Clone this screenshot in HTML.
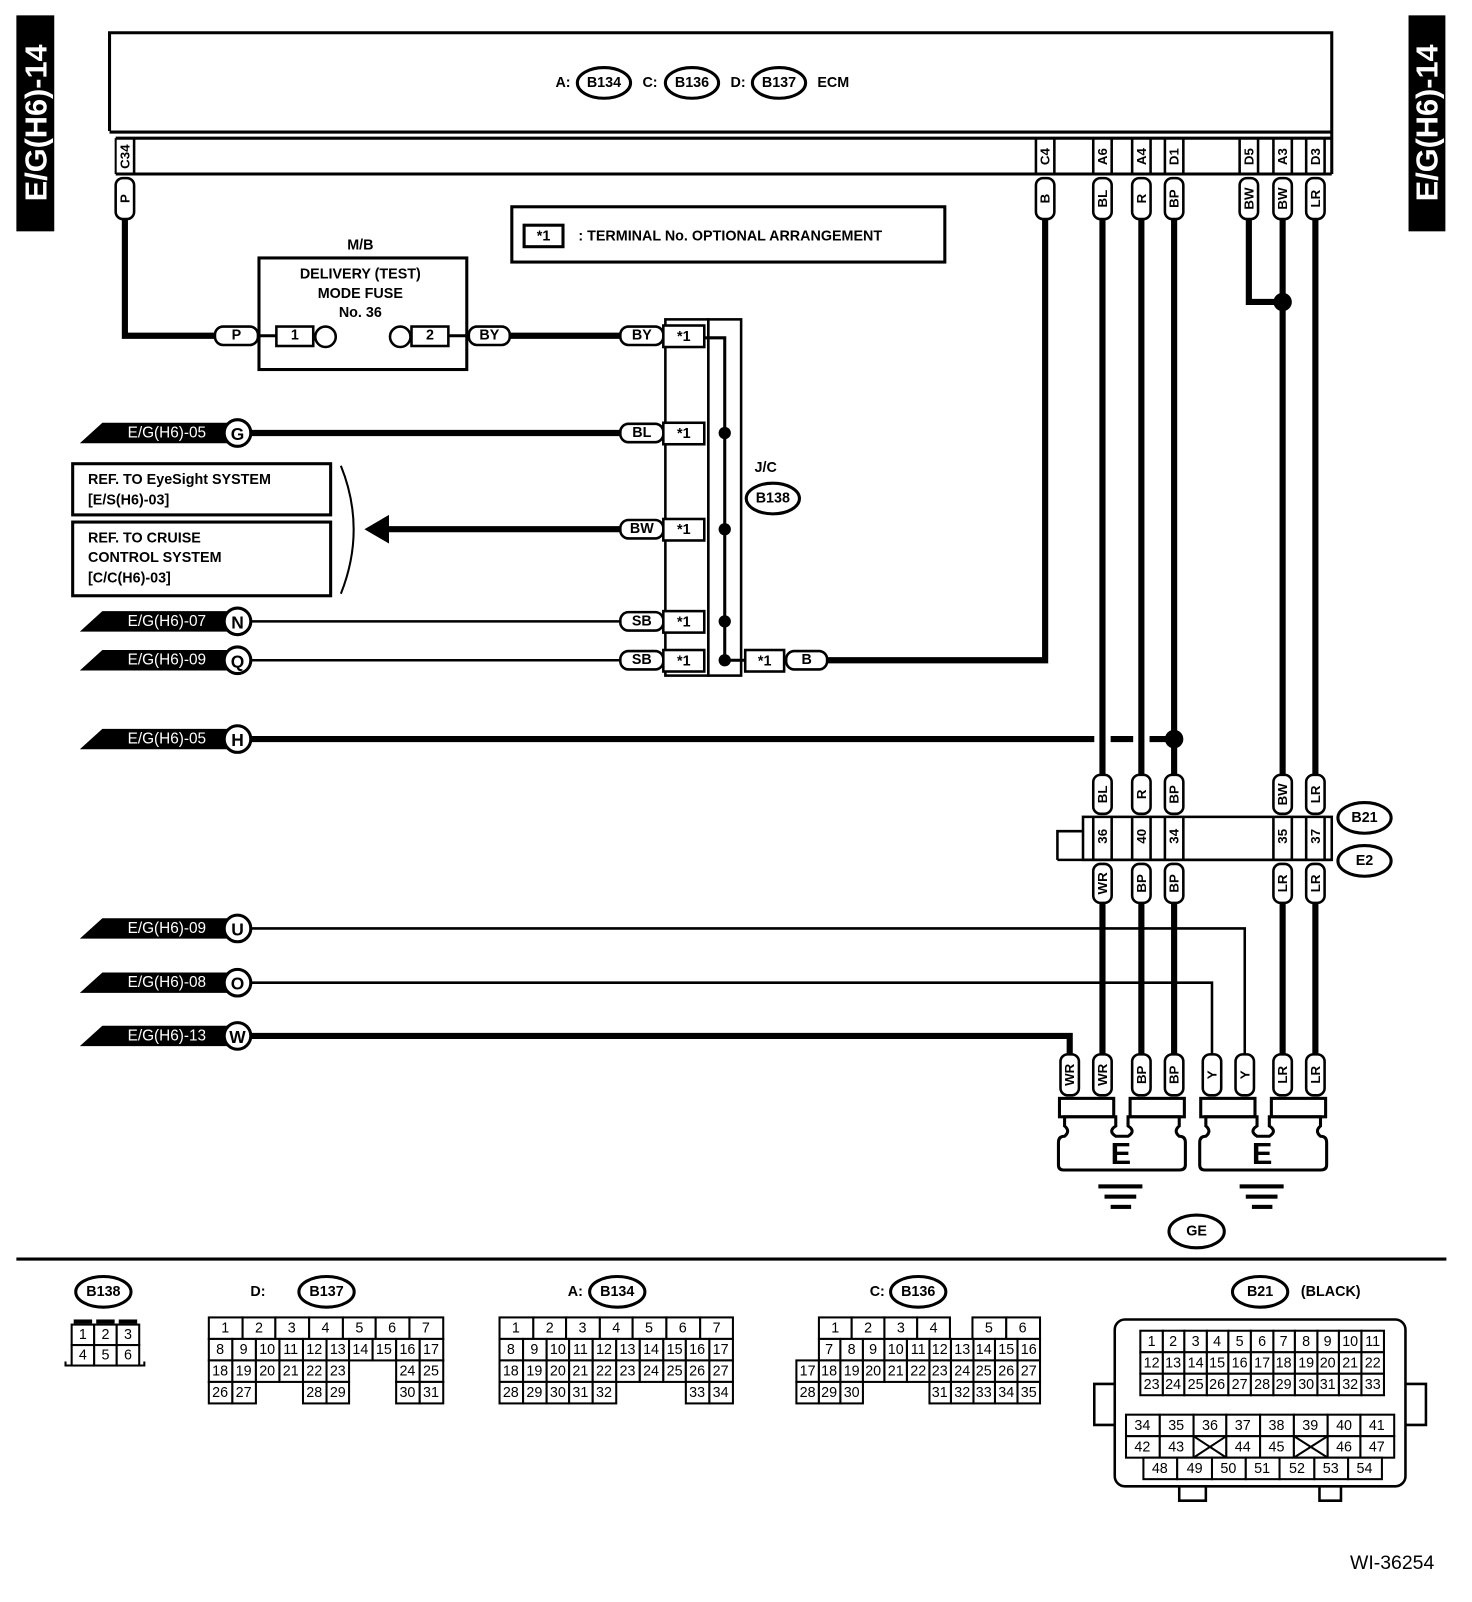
<!DOCTYPE html>
<html><head><meta charset="utf-8"><style>
html,body{margin:0;padding:0;background:#fff}
svg{display:block}
text{font-family:"Liberation Sans",sans-serif;fill:#000}
.b{font-weight:bold}
.c rect{fill:#fff;stroke:#000;stroke-width:2}
.c text{font-size:14px;text-anchor:middle;dominant-baseline:central}
.p{fill:#fff;stroke:#000;stroke-width:2.5}
.w{stroke:#000;stroke-width:6;fill:none}
.t{stroke:#000;stroke-width:2.5;fill:none}
.v{font-size:13px;font-weight:bold;text-anchor:middle;dominant-baseline:central}
.h{font-size:14px;font-weight:bold;text-anchor:middle;dominant-baseline:central}
.tab{fill:#fff;font-size:15px;dominant-baseline:central;text-anchor:middle}
.L{font-size:18px;font-weight:bold;text-anchor:middle;dominant-baseline:central}
</style></head><body>
<svg width="1472" height="1602" viewBox="0 0 1438 1565" preserveAspectRatio="none" xmlns="http://www.w3.org/2000/svg">
<!-- side tabs -->
<rect x="16" y="15" width="37" height="211" fill="#000"/>
<text transform="translate(35,120) rotate(-90)" class="b" style="fill:#fff;font-size:30px;text-anchor:middle;dominant-baseline:central">E/G(H6)-14</text>
<rect x="1376" y="15" width="36" height="211" fill="#000"/>
<text transform="translate(1394,120) rotate(-90)" class="b" style="fill:#fff;font-size:30px;text-anchor:middle;dominant-baseline:central">E/G(H6)-14</text>

<!-- ECM -->
<path d="M107,128 V32 H1301 V128" fill="none" stroke="#000" stroke-width="3"/>
<line x1="107" y1="129" x2="1301" y2="129" stroke="#000" stroke-width="3"/>
<line x1="113" y1="135" x2="1301" y2="135" stroke="#000" stroke-width="3"/>
<line x1="113" y1="170" x2="1301" y2="170" stroke="#000" stroke-width="3"/>
<line x1="113" y1="135" x2="113" y2="170" stroke="#000" stroke-width="2"/>
<line x1="1301" y1="128" x2="1301" y2="170" stroke="#000" stroke-width="3"/>
<text x="550" y="81" class="h">A:</text>
<ellipse cx="590" cy="81" rx="26" ry="15" fill="#fff" stroke="#000" stroke-width="3"/><text x="590" y="81" class="h">B134</text>
<text x="635" y="81" class="h">C:</text>
<ellipse cx="676" cy="81" rx="26" ry="15" fill="#fff" stroke="#000" stroke-width="3"/><text x="676" y="81" class="h">B136</text>
<text x="721" y="81" class="h">D:</text>
<ellipse cx="761" cy="81" rx="26" ry="15" fill="#fff" stroke="#000" stroke-width="3"/><text x="761" y="81" class="h">B137</text>
<text x="814" y="81" class="h">ECM</text>
<!-- terminal cells -->
<g stroke="#000" stroke-width="2.5">
<line x1="131" y1="135" x2="131" y2="170"/>
<line x1="1012" y1="135" x2="1012" y2="170"/><line x1="1030" y1="135" x2="1030" y2="170"/>
<line x1="1068" y1="135" x2="1068" y2="170"/><line x1="1086" y1="135" x2="1086" y2="170"/>
<line x1="1106" y1="135" x2="1106" y2="170"/><line x1="1124" y1="135" x2="1124" y2="170"/>
<line x1="1138" y1="135" x2="1138" y2="170"/><line x1="1156" y1="135" x2="1156" y2="170"/>
<line x1="1211" y1="135" x2="1211" y2="170"/><line x1="1229" y1="135" x2="1229" y2="170"/>
<line x1="1244" y1="135" x2="1244" y2="170"/><line x1="1262" y1="135" x2="1262" y2="170"/>
<line x1="1276" y1="135" x2="1276" y2="170"/><line x1="1294" y1="135" x2="1294" y2="170"/>
</g>
<text transform="translate(122,153) rotate(-90)" class="v">C34</text>
<text transform="translate(1021,153) rotate(-90)" class="v">C4</text>
<text transform="translate(1077,153) rotate(-90)" class="v">A6</text>
<text transform="translate(1115,153) rotate(-90)" class="v">A4</text>
<text transform="translate(1147,153) rotate(-90)" class="v">D1</text>
<text transform="translate(1220,153) rotate(-90)" class="v">D5</text>
<text transform="translate(1253,153) rotate(-90)" class="v">A3</text>
<text transform="translate(1285,153) rotate(-90)" class="v">D3</text>

<!-- wires -->
<path class="w" d="M122,212 V328 H212"/>
<line class="w" x1="498" y1="328" x2="608" y2="328"/>
<path class="w" d="M806,645 H1021 V212"/>
<line class="w" x1="1077" y1="212" x2="1077" y2="762"/>
<line class="w" x1="1115" y1="212" x2="1115" y2="762"/>
<line class="w" x1="1147" y1="212" x2="1147" y2="762"/>
<path class="w" d="M1220,212 V295 H1253"/>
<line class="w" x1="1253" y1="212" x2="1253" y2="762"/>
<line class="w" x1="1285" y1="212" x2="1285" y2="762"/>
<circle cx="1253" cy="295" r="9"/>
<line class="w" x1="246" y1="423" x2="608" y2="423"/>
<line class="w" x1="378" y1="517" x2="608" y2="517"/>
<polygon points="356,517 380,503 380,531"/>
<line class="t" x1="246" y1="607" x2="608" y2="607"/>
<line class="t" x1="246" y1="645" x2="608" y2="645"/>
<path class="w" d="M246,722 H1069 M1085,722 H1107 M1123,722 H1147"/>
<circle cx="1147" cy="722" r="9"/>
<line class="w" x1="1077" y1="880" x2="1077" y2="1032"/>
<line class="w" x1="1115" y1="880" x2="1115" y2="1032"/>
<line class="w" x1="1147" y1="880" x2="1147" y2="1032"/>
<line class="w" x1="1253" y1="880" x2="1253" y2="1032"/>
<line class="w" x1="1285" y1="880" x2="1285" y2="1032"/>
<path class="t" d="M246,907 H1216 V1032"/>
<path class="t" d="M246,960 H1184 V1032"/>
<path class="w" d="M246,1012 H1045 V1032"/>

<!-- vertical pills top -->
<g class="p">
<rect x="113" y="174" width="18" height="40" rx="7"/>
<rect x="1012" y="174" width="18" height="40" rx="7"/>
<rect x="1068" y="174" width="18" height="40" rx="7"/>
<rect x="1106" y="174" width="18" height="40" rx="7"/>
<rect x="1138" y="174" width="18" height="40" rx="7"/>
<rect x="1211" y="174" width="18" height="40" rx="7"/>
<rect x="1244" y="174" width="18" height="40" rx="7"/>
<rect x="1276" y="174" width="18" height="40" rx="7"/>
</g>
<text transform="translate(122,194) rotate(-90)" class="v">P</text>
<text transform="translate(1021,194) rotate(-90)" class="v">B</text>
<text transform="translate(1077,194) rotate(-90)" class="v">BL</text>
<text transform="translate(1115,194) rotate(-90)" class="v">R</text>
<text transform="translate(1147,194) rotate(-90)" class="v">BP</text>
<text transform="translate(1220,194) rotate(-90)" class="v">BW</text>
<text transform="translate(1253,194) rotate(-90)" class="v">BW</text>
<text transform="translate(1285,194) rotate(-90)" class="v">LR</text>

<!-- note box -->
<rect x="500" y="202" width="423" height="54" fill="#fff" stroke="#000" stroke-width="3"/>
<rect x="512" y="220" width="38" height="21" fill="#fff" stroke="#000" stroke-width="3"/>
<text x="531" y="231" class="h">*1</text>
<text x="565" y="231" class="b" style="font-size:14px;dominant-baseline:central">: TERMINAL No. OPTIONAL ARRANGEMENT</text>

<!-- fuse box -->
<text x="352" y="240" class="h">M/B</text>
<rect x="253" y="252" width="203" height="109" fill="#fff" stroke="#000" stroke-width="3"/>
<text x="352" y="268" class="h">DELIVERY (TEST)</text>
<text x="352" y="287" class="h">MODE FUSE</text>
<text x="352" y="306" class="h">No. 36</text>
<line x1="250" y1="328" x2="272" y2="328" stroke="#000" stroke-width="3"/>
<line x1="438" y1="328" x2="460" y2="328" stroke="#000" stroke-width="3"/>
<rect class="p" x="210" y="319" width="42" height="18" rx="8"/><text x="231" y="328" class="h">P</text>
<rect class="p" x="270" y="319" width="36" height="19"/><text x="288" y="328" class="h">1</text>
<ellipse class="p" cx="318" cy="329" rx="10" ry="10"/>
<ellipse class="p" cx="391" cy="329" rx="10" ry="10"/>
<rect class="p" x="402" y="319" width="36" height="19"/><text x="420" y="328" class="h">2</text>
<rect class="p" x="458" y="319" width="40" height="18" rx="8"/><text x="478" y="328" class="h">BY</text>

<!-- J/C -->
<rect x="650" y="312" width="42" height="348" fill="#fff" stroke="#000" stroke-width="2.5"/>
<rect x="692" y="312" width="32" height="348" fill="#fff" stroke="#000" stroke-width="2.5"/>
<path class="t" d="M688,330 H708 V645 H728" style="stroke-width:3"/>
<circle cx="708" cy="423" r="6"/><circle cx="708" cy="517" r="6"/><circle cx="708" cy="607" r="6"/><circle cx="708" cy="645" r="6"/>
<g>
<rect class="p" x="606" y="319" width="42" height="18" rx="8"/><text x="627" y="328" class="h">BY</text>
<rect class="p" x="648" y="318" width="40" height="21"/><text x="668" y="329" class="h">*1</text>
<rect class="p" x="606" y="414" width="42" height="18" rx="8"/><text x="627" y="423" class="h">BL</text>
<rect class="p" x="648" y="413" width="40" height="21"/><text x="668" y="424" class="h">*1</text>
<rect class="p" x="606" y="508" width="42" height="18" rx="8"/><text x="627" y="517" class="h">BW</text>
<rect class="p" x="648" y="507" width="40" height="21"/><text x="668" y="518" class="h">*1</text>
<rect class="p" x="606" y="598" width="42" height="18" rx="8"/><text x="627" y="607" class="h">SB</text>
<rect class="p" x="648" y="597" width="40" height="21"/><text x="668" y="608" class="h">*1</text>
<rect class="p" x="606" y="636" width="42" height="18" rx="8"/><text x="627" y="645" class="h">SB</text>
<rect class="p" x="648" y="635" width="40" height="21"/><text x="668" y="646" class="h">*1</text>
<rect class="p" x="728" y="635" width="38" height="21"/><text x="747" y="646" class="h">*1</text>
<rect class="p" x="768" y="636" width="40" height="18" rx="8"/><text x="788" y="645" class="h">B</text>
</g>
<text x="748" y="457" class="h">J/C</text>
<ellipse cx="755" cy="487" rx="26" ry="15" fill="#fff" stroke="#000" stroke-width="3"/><text x="755" y="487" class="h">B138</text>

<!-- ref boxes -->
<rect x="71" y="453" width="252" height="50" fill="#fff" stroke="#000" stroke-width="3"/>
<text x="86" y="469" class="b" style="font-size:14px;dominant-baseline:central">REF. TO EyeSight SYSTEM</text>
<text x="86" y="489" class="b" style="font-size:14px;dominant-baseline:central">[E/S(H6)-03]</text>
<rect x="71" y="510" width="252" height="72" fill="#fff" stroke="#000" stroke-width="3"/>
<text x="86" y="526" class="b" style="font-size:14px;dominant-baseline:central">REF. TO CRUISE</text>
<text x="86" y="545" class="b" style="font-size:14px;dominant-baseline:central">CONTROL SYSTEM</text>
<text x="86" y="565" class="b" style="font-size:14px;dominant-baseline:central">[C/C(H6)-03]</text>
<path d="M333,455 Q358,517 333,580" fill="none" stroke="#000" stroke-width="2"/>

<!-- left ref tabs -->
<g>
<polygon points="78,433 100,413 232,413 232,433"/><text x="163" y="423" class="tab">E/G(H6)-05</text>
<circle cx="232" cy="423" r="13" fill="#fff" stroke="#000" stroke-width="3"/><text x="232" y="424" class="h" style="font-size:17px">G</text>
<polygon points="78,617 100,597 232,597 232,617"/><text x="163" y="607" class="tab">E/G(H6)-07</text>
<circle cx="232" cy="607" r="13" fill="#fff" stroke="#000" stroke-width="3"/><text x="232" y="608" class="h" style="font-size:17px">N</text>
<polygon points="78,655 100,635 232,635 232,655"/><text x="163" y="645" class="tab">E/G(H6)-09</text>
<circle cx="232" cy="645" r="13" fill="#fff" stroke="#000" stroke-width="3"/><text x="232" y="646" class="h" style="font-size:17px">Q</text>
<polygon points="78,732 100,712 232,712 232,732"/><text x="163" y="722" class="tab">E/G(H6)-05</text>
<circle cx="232" cy="722" r="13" fill="#fff" stroke="#000" stroke-width="3"/><text x="232" y="723" class="h" style="font-size:17px">H</text>
<polygon points="78,917 100,897 232,897 232,917"/><text x="163" y="907" class="tab">E/G(H6)-09</text>
<circle cx="232" cy="907" r="13" fill="#fff" stroke="#000" stroke-width="3"/><text x="232" y="908" class="h" style="font-size:17px">U</text>
<polygon points="78,970 100,950 232,950 232,970"/><text x="163" y="960" class="tab">E/G(H6)-08</text>
<circle cx="232" cy="960" r="13" fill="#fff" stroke="#000" stroke-width="3"/><text x="232" y="961" class="h" style="font-size:17px">O</text>
<polygon points="78,1022 100,1002 232,1002 232,1022"/><text x="163" y="1012" class="tab">E/G(H6)-13</text>
<circle cx="232" cy="1012" r="13" fill="#fff" stroke="#000" stroke-width="3"/><text x="232" y="1013" class="h" style="font-size:17px">W</text>
</g>

<!-- B21/E2 joint connector -->
<rect x="1058" y="798" width="243" height="42" fill="#fff" stroke="#000" stroke-width="2.5"/>
<path d="M1033,840 V812 H1058" fill="none" stroke="#000" stroke-width="2.5"/>
<line x1="1033" y1="840" x2="1301" y2="840" stroke="#000" stroke-width="2.5"/>
<g stroke="#000" stroke-width="2.5">
<line x1="1068" y1="798" x2="1068" y2="840"/><line x1="1086" y1="798" x2="1086" y2="840"/>
<line x1="1106" y1="798" x2="1106" y2="840"/><line x1="1124" y1="798" x2="1124" y2="840"/>
<line x1="1138" y1="798" x2="1138" y2="840"/><line x1="1156" y1="798" x2="1156" y2="840"/>
<line x1="1244" y1="798" x2="1244" y2="840"/><line x1="1262" y1="798" x2="1262" y2="840"/>
<line x1="1276" y1="798" x2="1276" y2="840"/><line x1="1294" y1="798" x2="1294" y2="840"/>
</g>
<text transform="translate(1077,817) rotate(-90)" class="v">36</text>
<text transform="translate(1115,817) rotate(-90)" class="v">40</text>
<text transform="translate(1147,817) rotate(-90)" class="v">34</text>
<text transform="translate(1253,817) rotate(-90)" class="v">35</text>
<text transform="translate(1285,817) rotate(-90)" class="v">37</text>
<ellipse cx="1333" cy="799" rx="26" ry="15" fill="#fff" stroke="#000" stroke-width="3"/><text x="1333" y="799" class="h">B21</text>
<ellipse cx="1333" cy="841" rx="26" ry="15" fill="#fff" stroke="#000" stroke-width="3"/><text x="1333" y="841" class="h">E2</text>
<g class="p">
<rect x="1068" y="757" width="18" height="38" rx="7"/><rect x="1106" y="757" width="18" height="38" rx="7"/>
<rect x="1138" y="757" width="18" height="38" rx="7"/><rect x="1244" y="757" width="18" height="38" rx="7"/>
<rect x="1276" y="757" width="18" height="38" rx="7"/>
<rect x="1068" y="844" width="18" height="38" rx="7"/><rect x="1106" y="844" width="18" height="38" rx="7"/>
<rect x="1138" y="844" width="18" height="38" rx="7"/><rect x="1244" y="844" width="18" height="38" rx="7"/>
<rect x="1276" y="844" width="18" height="38" rx="7"/>
</g>
<text transform="translate(1077,776) rotate(-90)" class="v">BL</text>
<text transform="translate(1115,776) rotate(-90)" class="v">R</text>
<text transform="translate(1147,776) rotate(-90)" class="v">BP</text>
<text transform="translate(1253,776) rotate(-90)" class="v">BW</text>
<text transform="translate(1285,776) rotate(-90)" class="v">LR</text>
<text transform="translate(1077,863) rotate(-90)" class="v">WR</text>
<text transform="translate(1115,863) rotate(-90)" class="v">BP</text>
<text transform="translate(1147,863) rotate(-90)" class="v">BP</text>
<text transform="translate(1253,863) rotate(-90)" class="v">LR</text>
<text transform="translate(1285,863) rotate(-90)" class="v">LR</text>

<!-- lower pills -->
<g class="p">
<rect x="1036" y="1030" width="18" height="40" rx="7"/><rect x="1068" y="1030" width="18" height="40" rx="7"/>
<rect x="1106" y="1030" width="18" height="40" rx="7"/><rect x="1138" y="1030" width="18" height="40" rx="7"/>
<rect x="1175" y="1030" width="18" height="40" rx="7"/><rect x="1207" y="1030" width="18" height="40" rx="7"/>
<rect x="1244" y="1030" width="18" height="40" rx="7"/><rect x="1276" y="1030" width="18" height="40" rx="7"/>
</g>
<text transform="translate(1045,1050) rotate(-90)" class="v">WR</text>
<text transform="translate(1077,1050) rotate(-90)" class="v">WR</text>
<text transform="translate(1115,1050) rotate(-90)" class="v">BP</text>
<text transform="translate(1147,1050) rotate(-90)" class="v">BP</text>
<text transform="translate(1184,1050) rotate(-90)" class="v">Y</text>
<text transform="translate(1216,1050) rotate(-90)" class="v">Y</text>
<text transform="translate(1253,1050) rotate(-90)" class="v">LR</text>
<text transform="translate(1285,1050) rotate(-90)" class="v">LR</text>

<!-- ground terminals -->
<g fill="#fff" stroke="#000" stroke-width="3">
<rect x="1035" y="1073" width="53" height="18"/><rect x="1104" y="1073" width="53" height="18"/>
<rect x="1173" y="1073" width="53" height="18"/><rect x="1242" y="1073" width="53" height="18"/>
<path d="M1040,1091 H1090 V1100 Q1082,1105 1090,1110 H1102 Q1110,1105 1102,1100 V1091 H1152 V1100 Q1146,1105 1152,1110 Q1158,1110 1158,1116 V1138 Q1158,1143 1152,1143 H1039 Q1034,1143 1034,1138 V1116 Q1034,1110 1040,1110 Q1046,1105 1040,1100 Z"/>
<path d="M1178,1091 H1228 V1100 Q1220,1105 1228,1110 H1240 Q1248,1105 1240,1100 V1091 H1290 V1100 Q1284,1105 1290,1110 Q1296,1110 1296,1116 V1138 Q1296,1143 1290,1143 H1177 Q1172,1143 1172,1138 V1116 Q1172,1110 1178,1110 Q1184,1105 1178,1100 Z"/>
</g>
<text x="1095" y="1127" class="b" style="font-size:30px;text-anchor:middle;dominant-baseline:central">E</text>
<text x="1233" y="1127" class="b" style="font-size:30px;text-anchor:middle;dominant-baseline:central">E</text>
<g fill="#000">
<rect x="1073" y="1157" width="43" height="4"/><rect x="1079" y="1167" width="31" height="4"/><rect x="1085" y="1177" width="20" height="4"/>
<rect x="1211" y="1157" width="43" height="4"/><rect x="1217" y="1167" width="31" height="4"/><rect x="1223" y="1177" width="20" height="4"/>
</g>
<ellipse cx="1169" cy="1203" rx="27" ry="16" fill="#fff" stroke="#000" stroke-width="3"/><text x="1169" y="1203" class="h">GE</text>

<line x1="16" y1="1230" x2="1413" y2="1230" stroke="#000" stroke-width="3"/>

<!-- B138 -->
<ellipse cx="101" cy="1262" rx="27" ry="15" fill="#fff" stroke="#000" stroke-width="3"/><text x="101" y="1262" class="h">B138</text>
<g class="c">
<rect x="70" y="1294" width="22" height="20"/><text x="81" y="1304">1</text>
<rect x="92" y="1294" width="22" height="20"/><text x="103" y="1304">2</text>
<rect x="114" y="1294" width="22" height="20"/><text x="125" y="1304">3</text>
<rect x="70" y="1314" width="22" height="20"/><text x="81" y="1324">4</text>
<rect x="92" y="1314" width="22" height="20"/><text x="103" y="1324">5</text>
<rect x="114" y="1314" width="22" height="20"/><text x="125" y="1324">6</text>
</g>
<path d="M70,1334 H64 V1330 M136,1334 H141 V1330" stroke="#000" stroke-width="2" fill="none"/>
<g fill="#000"><rect x="72" y="1289" width="18" height="4"/><rect x="94" y="1289" width="18" height="4"/><rect x="116" y="1289" width="18" height="4"/></g>

<!-- D:B137 -->
<text x="252" y="1262" class="h">D:</text>
<ellipse cx="319" cy="1262" rx="27" ry="15" fill="#fff" stroke="#000" stroke-width="3"/><text x="319" y="1262" class="h">B137</text>
<g class="c">
<rect x="204" y="1287" width="33" height="21"/><text x="220" y="1298">1</text>
<rect x="237" y="1287" width="32" height="21"/><text x="253" y="1298">2</text>
<rect x="269" y="1287" width="33" height="21"/><text x="285" y="1298">3</text>
<rect x="302" y="1287" width="33" height="21"/><text x="318" y="1298">4</text>
<rect x="335" y="1287" width="32" height="21"/><text x="351" y="1298">5</text>
<rect x="367" y="1287" width="33" height="21"/><text x="383" y="1298">6</text>
<rect x="400" y="1287" width="33" height="21"/><text x="416" y="1298">7</text>
<rect x="204" y="1308" width="23" height="21"/><text x="215" y="1319">8</text>
<rect x="227" y="1308" width="23" height="21"/><text x="238" y="1319">9</text>
<rect x="250" y="1308" width="23" height="21"/><text x="261" y="1319">10</text>
<rect x="273" y="1308" width="23" height="21"/><text x="284" y="1319">11</text>
<rect x="296" y="1308" width="23" height="21"/><text x="307" y="1319">12</text>
<rect x="319" y="1308" width="22" height="21"/><text x="330" y="1319">13</text>
<rect x="341" y="1308" width="23" height="21"/><text x="352" y="1319">14</text>
<rect x="364" y="1308" width="23" height="21"/><text x="375" y="1319">15</text>
<rect x="387" y="1308" width="23" height="21"/><text x="398" y="1319">16</text>
<rect x="410" y="1308" width="23" height="21"/><text x="421" y="1319">17</text>
<rect x="204" y="1329" width="23" height="21"/><text x="215" y="1340">18</text>
<rect x="227" y="1329" width="23" height="21"/><text x="238" y="1340">19</text>
<rect x="250" y="1329" width="23" height="21"/><text x="261" y="1340">20</text>
<rect x="273" y="1329" width="23" height="21"/><text x="284" y="1340">21</text>
<rect x="296" y="1329" width="23" height="21"/><text x="307" y="1340">22</text>
<rect x="319" y="1329" width="22" height="21"/><text x="330" y="1340">23</text>
<rect x="387" y="1329" width="23" height="21"/><text x="398" y="1340">24</text>
<rect x="410" y="1329" width="23" height="21"/><text x="421" y="1340">25</text>
<rect x="204" y="1350" width="23" height="21"/><text x="215" y="1361">26</text>
<rect x="227" y="1350" width="23" height="21"/><text x="238" y="1361">27</text>
<rect x="296" y="1350" width="23" height="21"/><text x="307" y="1361">28</text>
<rect x="319" y="1350" width="22" height="21"/><text x="330" y="1361">29</text>
<rect x="387" y="1350" width="23" height="21"/><text x="398" y="1361">30</text>
<rect x="410" y="1350" width="23" height="21"/><text x="421" y="1361">31</text>
</g>

<!-- A:B134 -->
<text x="562" y="1262" class="h">A:</text>
<ellipse cx="603" cy="1262" rx="27" ry="15" fill="#fff" stroke="#000" stroke-width="3"/><text x="603" y="1262" class="h">B134</text>
<g class="c">
<rect x="488" y="1287" width="33" height="21"/><text x="504" y="1298">1</text>
<rect x="521" y="1287" width="32" height="21"/><text x="537" y="1298">2</text>
<rect x="553" y="1287" width="33" height="21"/><text x="569" y="1298">3</text>
<rect x="586" y="1287" width="32" height="21"/><text x="602" y="1298">4</text>
<rect x="618" y="1287" width="33" height="21"/><text x="634" y="1298">5</text>
<rect x="651" y="1287" width="33" height="21"/><text x="667" y="1298">6</text>
<rect x="684" y="1287" width="32" height="21"/><text x="700" y="1298">7</text>
<rect x="488" y="1308" width="23" height="21"/><text x="499" y="1319">8</text>
<rect x="511" y="1308" width="23" height="21"/><text x="522" y="1319">9</text>
<rect x="534" y="1308" width="22" height="21"/><text x="545" y="1319">10</text>
<rect x="556" y="1308" width="23" height="21"/><text x="567" y="1319">11</text>
<rect x="579" y="1308" width="23" height="21"/><text x="590" y="1319">12</text>
<rect x="602" y="1308" width="23" height="21"/><text x="613" y="1319">13</text>
<rect x="625" y="1308" width="23" height="21"/><text x="636" y="1319">14</text>
<rect x="648" y="1308" width="22" height="21"/><text x="659" y="1319">15</text>
<rect x="670" y="1308" width="23" height="21"/><text x="681" y="1319">16</text>
<rect x="693" y="1308" width="23" height="21"/><text x="704" y="1319">17</text>
<rect x="488" y="1329" width="23" height="21"/><text x="499" y="1340">18</text>
<rect x="511" y="1329" width="23" height="21"/><text x="522" y="1340">19</text>
<rect x="534" y="1329" width="22" height="21"/><text x="545" y="1340">20</text>
<rect x="556" y="1329" width="23" height="21"/><text x="567" y="1340">21</text>
<rect x="579" y="1329" width="23" height="21"/><text x="590" y="1340">22</text>
<rect x="602" y="1329" width="23" height="21"/><text x="613" y="1340">23</text>
<rect x="625" y="1329" width="23" height="21"/><text x="636" y="1340">24</text>
<rect x="648" y="1329" width="22" height="21"/><text x="659" y="1340">25</text>
<rect x="670" y="1329" width="23" height="21"/><text x="681" y="1340">26</text>
<rect x="693" y="1329" width="23" height="21"/><text x="704" y="1340">27</text>
<rect x="488" y="1350" width="23" height="21"/><text x="499" y="1361">28</text>
<rect x="511" y="1350" width="23" height="21"/><text x="522" y="1361">29</text>
<rect x="534" y="1350" width="22" height="21"/><text x="545" y="1361">30</text>
<rect x="556" y="1350" width="23" height="21"/><text x="567" y="1361">31</text>
<rect x="579" y="1350" width="23" height="21"/><text x="590" y="1361">32</text>
<rect x="670" y="1350" width="23" height="21"/><text x="681" y="1361">33</text>
<rect x="693" y="1350" width="23" height="21"/><text x="704" y="1361">34</text>
</g>

<!-- C:B136 -->
<text x="857" y="1262" class="h">C:</text>
<ellipse cx="897" cy="1262" rx="27" ry="15" fill="#fff" stroke="#000" stroke-width="3"/><text x="897" y="1262" class="h">B136</text>
<g class="c">
<rect x="800" y="1287" width="32" height="21"/><text x="816" y="1298">1</text>
<rect x="832" y="1287" width="32" height="21"/><text x="848" y="1298">2</text>
<rect x="864" y="1287" width="32" height="21"/><text x="880" y="1298">3</text>
<rect x="896" y="1287" width="32" height="21"/><text x="912" y="1298">4</text>
<rect x="950" y="1287" width="33" height="21"/><text x="966" y="1298">5</text>
<rect x="983" y="1287" width="33" height="21"/><text x="999" y="1298">6</text>
<rect x="800" y="1308" width="21" height="21"/><text x="810" y="1319">7</text>
<rect x="821" y="1308" width="22" height="21"/><text x="832" y="1319">8</text>
<rect x="843" y="1308" width="21" height="21"/><text x="853" y="1319">9</text>
<rect x="864" y="1308" width="22" height="21"/><text x="875" y="1319">10</text>
<rect x="886" y="1308" width="22" height="21"/><text x="897" y="1319">11</text>
<rect x="908" y="1308" width="21" height="21"/><text x="918" y="1319">12</text>
<rect x="929" y="1308" width="22" height="21"/><text x="940" y="1319">13</text>
<rect x="951" y="1308" width="21" height="21"/><text x="961" y="1319">14</text>
<rect x="972" y="1308" width="22" height="21"/><text x="983" y="1319">15</text>
<rect x="994" y="1308" width="22" height="21"/><text x="1005" y="1319">16</text>
<rect x="778" y="1329" width="22" height="21"/><text x="789" y="1340">17</text>
<rect x="800" y="1329" width="21" height="21"/><text x="810" y="1340">18</text>
<rect x="821" y="1329" width="22" height="21"/><text x="832" y="1340">19</text>
<rect x="843" y="1329" width="21" height="21"/><text x="853" y="1340">20</text>
<rect x="864" y="1329" width="22" height="21"/><text x="875" y="1340">21</text>
<rect x="886" y="1329" width="22" height="21"/><text x="897" y="1340">22</text>
<rect x="908" y="1329" width="21" height="21"/><text x="918" y="1340">23</text>
<rect x="929" y="1329" width="22" height="21"/><text x="940" y="1340">24</text>
<rect x="951" y="1329" width="21" height="21"/><text x="961" y="1340">25</text>
<rect x="972" y="1329" width="22" height="21"/><text x="983" y="1340">26</text>
<rect x="994" y="1329" width="22" height="21"/><text x="1005" y="1340">27</text>
<rect x="778" y="1350" width="22" height="21"/><text x="789" y="1361">28</text>
<rect x="800" y="1350" width="21" height="21"/><text x="810" y="1361">29</text>
<rect x="821" y="1350" width="22" height="21"/><text x="832" y="1361">30</text>
<rect x="908" y="1350" width="21" height="21"/><text x="918" y="1361">31</text>
<rect x="929" y="1350" width="22" height="21"/><text x="940" y="1361">32</text>
<rect x="951" y="1350" width="21" height="21"/><text x="961" y="1361">33</text>
<rect x="972" y="1350" width="22" height="21"/><text x="983" y="1361">34</text>
<rect x="994" y="1350" width="22" height="21"/><text x="1005" y="1361">35</text>
</g>

<!-- B21 BLACK -->
<ellipse cx="1231" cy="1262" rx="27" ry="15" fill="#fff" stroke="#000" stroke-width="3"/><text x="1231" y="1262" class="h">B21</text>
<text x="1300" y="1262" class="h">(BLACK)</text>
<g fill="#fff" stroke="#000" stroke-width="2.5">
<path d="M1089,1352 H1069 V1392 H1089 M1373,1352 H1393 V1392 H1373"/>
<path d="M1152,1452 V1466 H1178 V1452 M1289,1452 V1466 H1310 V1452"/>
<rect x="1089" y="1289" width="284" height="163" rx="10"/>
</g>
<g class="c">
<rect x="1114" y="1300" width="22" height="21"/><text x="1125" y="1311">1</text>
<rect x="1136" y="1300" width="21" height="21"/><text x="1146" y="1311">2</text>
<rect x="1157" y="1300" width="22" height="21"/><text x="1168" y="1311">3</text>
<rect x="1179" y="1300" width="21" height="21"/><text x="1189" y="1311">4</text>
<rect x="1200" y="1300" width="22" height="21"/><text x="1211" y="1311">5</text>
<rect x="1222" y="1300" width="22" height="21"/><text x="1233" y="1311">6</text>
<rect x="1244" y="1300" width="21" height="21"/><text x="1254" y="1311">7</text>
<rect x="1265" y="1300" width="22" height="21"/><text x="1276" y="1311">8</text>
<rect x="1287" y="1300" width="21" height="21"/><text x="1297" y="1311">9</text>
<rect x="1308" y="1300" width="22" height="21"/><text x="1319" y="1311">10</text>
<rect x="1330" y="1300" width="22" height="21"/><text x="1341" y="1311">11</text>
<rect x="1114" y="1321" width="22" height="21"/><text x="1125" y="1332">12</text>
<rect x="1136" y="1321" width="21" height="21"/><text x="1146" y="1332">13</text>
<rect x="1157" y="1321" width="22" height="21"/><text x="1168" y="1332">14</text>
<rect x="1179" y="1321" width="21" height="21"/><text x="1189" y="1332">15</text>
<rect x="1200" y="1321" width="22" height="21"/><text x="1211" y="1332">16</text>
<rect x="1222" y="1321" width="22" height="21"/><text x="1233" y="1332">17</text>
<rect x="1244" y="1321" width="21" height="21"/><text x="1254" y="1332">18</text>
<rect x="1265" y="1321" width="22" height="21"/><text x="1276" y="1332">19</text>
<rect x="1287" y="1321" width="21" height="21"/><text x="1297" y="1332">20</text>
<rect x="1308" y="1321" width="22" height="21"/><text x="1319" y="1332">21</text>
<rect x="1330" y="1321" width="22" height="21"/><text x="1341" y="1332">22</text>
<rect x="1114" y="1342" width="22" height="21"/><text x="1125" y="1353">23</text>
<rect x="1136" y="1342" width="21" height="21"/><text x="1146" y="1353">24</text>
<rect x="1157" y="1342" width="22" height="21"/><text x="1168" y="1353">25</text>
<rect x="1179" y="1342" width="21" height="21"/><text x="1189" y="1353">26</text>
<rect x="1200" y="1342" width="22" height="21"/><text x="1211" y="1353">27</text>
<rect x="1222" y="1342" width="22" height="21"/><text x="1233" y="1353">28</text>
<rect x="1244" y="1342" width="21" height="21"/><text x="1254" y="1353">29</text>
<rect x="1265" y="1342" width="22" height="21"/><text x="1276" y="1353">30</text>
<rect x="1287" y="1342" width="21" height="21"/><text x="1297" y="1353">31</text>
<rect x="1308" y="1342" width="22" height="21"/><text x="1319" y="1353">32</text>
<rect x="1330" y="1342" width="22" height="21"/><text x="1341" y="1353">33</text>
<rect x="1100" y="1382" width="33" height="21"/><text x="1116" y="1393">34</text>
<rect x="1133" y="1382" width="33" height="21"/><text x="1149" y="1393">35</text>
<rect x="1166" y="1382" width="32" height="21"/><text x="1182" y="1393">36</text>
<rect x="1198" y="1382" width="33" height="21"/><text x="1214" y="1393">37</text>
<rect x="1231" y="1382" width="33" height="21"/><text x="1247" y="1393">38</text>
<rect x="1264" y="1382" width="33" height="21"/><text x="1280" y="1393">39</text>
<rect x="1297" y="1382" width="32" height="21"/><text x="1313" y="1393">40</text>
<rect x="1329" y="1382" width="33" height="21"/><text x="1345" y="1393">41</text>
<rect x="1100" y="1403" width="33" height="21"/><text x="1116" y="1414">42</text>
<rect x="1133" y="1403" width="33" height="21"/><text x="1149" y="1414">43</text>
<rect x="1166" y="1403" width="32" height="21"/>
<rect x="1198" y="1403" width="33" height="21"/><text x="1214" y="1414">44</text>
<rect x="1231" y="1403" width="33" height="21"/><text x="1247" y="1414">45</text>
<rect x="1264" y="1403" width="33" height="21"/>
<rect x="1297" y="1403" width="32" height="21"/><text x="1313" y="1414">46</text>
<rect x="1329" y="1403" width="33" height="21"/><text x="1345" y="1414">47</text>
<rect x="1117" y="1424" width="33" height="21"/><text x="1133" y="1435">48</text>
<rect x="1150" y="1424" width="34" height="21"/><text x="1167" y="1435">49</text>
<rect x="1184" y="1424" width="33" height="21"/><text x="1200" y="1435">50</text>
<rect x="1217" y="1424" width="33" height="21"/><text x="1233" y="1435">51</text>
<rect x="1250" y="1424" width="34" height="21"/><text x="1267" y="1435">52</text>
<rect x="1284" y="1424" width="33" height="21"/><text x="1300" y="1435">53</text>
<rect x="1317" y="1424" width="33" height="21"/><text x="1333" y="1435">54</text>
</g>
<path d="M1166,1403 L1198,1424 M1198,1403 L1166,1424 M1264,1403 L1297,1424 M1297,1403 L1264,1424" stroke="#000" stroke-width="2"/>

<text x="1360" y="1527" style="font-size:19px;text-anchor:middle;dominant-baseline:central">WI-36254</text>
</svg>
</body></html>
